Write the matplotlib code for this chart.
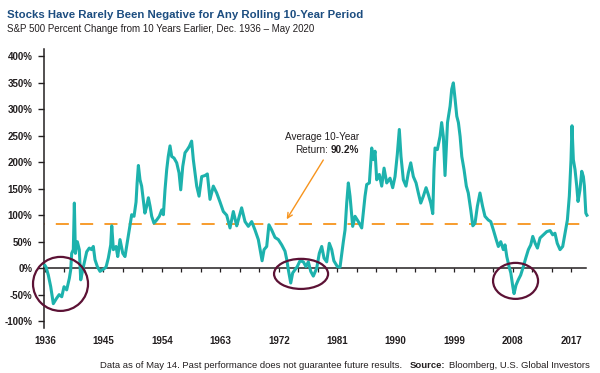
import matplotlib
matplotlib.use('Agg')
import matplotlib.pyplot as plt
import matplotlib.transforms as mtransforms
from matplotlib.patches import Ellipse

plt.rcParams['font.family'] = ['Liberation Sans', 'DejaVu Sans']
plt.rcParams['lines.scale_dashes'] = False

# ---------------- data ----------------
years = [1936.92, 1937.08, 1937.43, 1937.8, 1938.2, 1938.7, 1939.1, 1939.5, 1939.85, 1940.26,
         1940.67, 1940.88, 1941.03, 1941.28, 1941.44, 1941.6, 1941.9, 1942.2, 1942.42, 1942.73,
         1943.08, 1943.34, 1943.74, 1944.1, 1944.36, 1944.62, 1944.98, 1945.39, 1945.9, 1946.32,
         1946.67, 1947.04, 1947.2, 1947.45, 1947.86, 1948.12, 1948.47, 1948.9, 1949.24, 1949.6,
         1950.01, 1950.27, 1950.63, 1950.94, 1951.1, 1951.3, 1951.55, 1951.8, 1952.06, 1952.3,
         1952.58, 1952.84, 1953.1, 1953.35, 1953.7, 1954.12, 1954.53, 1954.9, 1955.15, 1955.4,
         1955.66, 1955.9, 1956.17, 1956.43, 1956.79, 1957.2, 1957.56, 1957.82, 1958.13, 1958.48,
         1958.84, 1959.15, 1959.5, 1959.76, 1960.02, 1960.28, 1960.64, 1961.05, 1961.56, 1961.92,
         1962.33, 1962.84, 1963.36, 1963.87, 1964.38, 1964.9, 1965.41, 1965.92, 1966.44, 1967.2,
         1967.72, 1968.23, 1968.75, 1969.26, 1969.77, 1970.35, 1970.65, 1971.06, 1971.4, 1971.83,
         1972.34, 1972.85, 1973.37, 1973.88, 1974.15, 1974.39, 1974.76, 1975.06, 1975.42, 1975.77,
         1976.19, 1976.7, 1977.1, 1977.47, 1977.84, 1978.24, 1978.76, 1979.16, 1979.53, 1979.89,
         1980.3, 1980.7, 1981.07, 1981.4, 1981.94, 1982.35, 1982.86, 1983.12, 1983.38, 1983.63,
         1983.89, 1984.3, 1984.66, 1985.17, 1985.69, 1986.2, 1986.46, 1986.87, 1987.23, 1987.48,
         1987.74, 1988.0, 1988.4, 1988.77, 1989.13, 1989.54, 1990.05, 1990.46, 1990.82, 1991.17,
         1991.48, 1991.74, 1992.1, 1992.51, 1992.87, 1993.24, 1993.64, 1994.06, 1994.41, 1994.78,
         1995.18, 1995.6, 1995.95, 1996.32, 1996.63, 1996.82, 1996.98, 1997.34, 1997.75, 1998.0,
         1998.26, 1998.52, 1998.9, 1999.3, 1999.55, 1999.8, 2000.07, 2000.33, 2000.58, 2000.84,
         2001.1, 2001.45, 2001.8, 2002.1, 2002.48, 2002.8, 2003.14, 2003.5, 2003.9, 2004.3,
         2004.67, 2005.18, 2005.56, 2005.97, 2006.4, 2006.73, 2007.1, 2007.5, 2007.76, 2008.03,
         2008.38, 2008.65, 2008.96, 2009.15, 2009.45, 2009.8, 2010.17, 2010.58, 2010.95, 2011.35,
         2011.72, 2012.03, 2012.4, 2012.75, 2013.15, 2013.67, 2014.18, 2014.7, 2015.1, 2015.45,
         2015.8, 2016.23, 2016.64, 2017.0, 2017.36, 2017.66, 2017.92, 2018.07, 2018.28, 2018.54,
         2018.8, 2019.0, 2019.3, 2019.57, 2019.82, 2019.98, 2020.2, 2020.37]
pct_change = [5, 2, -13, -35, -67, -57, -50, -54, -35, -41,
              -19, -3, 28, 35, 123, 28, 50, 35, -22, -3,
              16, 31, 38, 35, 41, 16, 3, -6, -2, 2,
              19, 44, 80, 35, 41, 22, 54, 28, 22, 50,
              82, 101, 98, 125, 160, 194, 167, 155, 129, 104,
              117, 133, 117, 98, 85, 91, 98, 110, 101, 148,
              186, 211, 231, 211, 208, 199, 180, 148, 192, 218,
              224, 230, 240, 205, 180, 155, 136, 173, 175, 178,
              130, 155, 142, 125, 107, 100, 76, 107, 80, 114,
              88, 79, 88, 72, 54, 14, 35, 41, 82, 72,
              58, 54, 44, 32, 16, -3, -28, -9, -3, 3,
              14, 12, 3, 12, -6, -15, 0, 28, 41, 19,
              12, 47, 35, 14, 3, 2, 50, 72, 123, 161,
              136, 79, 98, 88, 76, 136, 158, 161, 227, 205,
              221, 167, 177, 155, 189, 161, 170, 152, 173, 215,
              262, 211, 167, 155, 180, 199, 173, 161, 142, 123,
              136, 152, 139, 123, 103, 186, 227, 224, 249, 275,
              249, 175, 275, 306, 338, 350, 319, 287, 275, 249,
              211, 186, 155, 142, 110, 80, 85, 117, 142, 117,
              98, 91, 88, 72, 54, 41, 50, 35, 44, 22,
              3, -9, -35, -48, -32, -22, -13, 3, 19, 35,
              44, 60, 47, 38, 57, 63, 69, 71, 63, 66,
              47, 35, 41, 66, 91, 136, 205, 269, 205, 186,
              155, 126, 148, 183, 173, 155, 104, 100]

label_years = [1936, 1945, 1954, 1963, 1972, 1981, 1990, 1999, 2008, 2017]
first_tick = 1936.92          # ticks fall on December of each labelled year
tick_step = 3
y_ticks = [-100, -50, 0, 50, 100, 150, 200, 250, 300, 350, 400]
avg_line_value = 83
avg_text_1 = "Average 10-Year"
avg_text_2 = "Return:"
avg_value_text = "90.2%"
# (centre year, centre %, width in years, height in %)
highlight_ellipses = [(1939.31, -29.7, 8.47, 102.0),
                      (1976.35, -10.8, 8.32, 56.8),
                      (2009.38, -24.0, 6.93, 68.0)]

title = "Stocks Have Rarely Been Negative for Any Rolling 10-Year Period"
subtitle = "S&P 500 Percent Change from 10 Years Earlier, Dec. 1936 \u2013 May 2020"
footer_runs = [("Data as of May 14. Past performance does not guarantee future results.", 'normal', 8),
               ("Source:", 'bold', 3),
               ("Bloomberg, U.S. Global Investors", 'normal', 0)]

# ---------------- styling ----------------
W, H = 600, 373
TEAL = '#1db2ad'
ORANGE = '#f7941d'
MAROON = '#5c1235'
DARK = '#231f20'
TITLE_BLUE = '#1c4d80'

fig = plt.figure(figsize=(W / 100, H / 100), dpi=100)
fig.patch.set_facecolor('white')

ax_left, ax_right, ax_top, ax_bottom = 44, 589, 49, 328
ax = fig.add_axes([ax_left / W, 1 - ax_bottom / H, (ax_right - ax_left) / W, (ax_bottom - ax_top) / H])
px_per_year = 6.494
x0 = first_tick - 1.0 / px_per_year
ax.set_xlim(x0, x0 + (ax_right - ax_left) / px_per_year)
ax.set_ylim(-113, 414)
ax.set_facecolor('white')

# spines
for s in ['top', 'right']:
    ax.spines[s].set_visible(False)
ax.spines['left'].set_color(DARK)
ax.spines['left'].set_linewidth(1.1)
ax.spines['bottom'].set_position(('data', 0))
ax.spines['bottom'].set_color(DARK)
ax.spines['bottom'].set_linewidth(1.1)
ax.spines['bottom'].set_bounds(x0, 2020.3)

# ticks
ax.set_yticks(y_ticks)
ax.set_yticklabels([f"{v}%" for v in y_ticks])
ax.tick_params(axis='y', direction='out', length=4.3, width=1.0, color=DARK, pad=4.0,
               labelsize=7, labelcolor=DARK)
for lab in ax.get_yticklabels():
    lab.set_fontweight('bold')
xt = [first_tick + tick_step * k for k in range(int((2018 - first_tick) // tick_step) + 1)]
ax.set_xticks(xt)
ax.tick_params(axis='x', direction='out', length=2.6, width=0.9, color=DARK, labelbottom=False)

# year labels below the plot
trans = mtransforms.blended_transform_factory(ax.transData, fig.transFigure)
for yr in label_years:
    ax.text(first_tick + (yr - 1936), 1 - 340.5 / H, str(yr), transform=trans, ha='center',
            va='center', fontsize=7, fontweight='bold', color=DARK, clip_on=False)

# average line
ax.plot([x0, 2020.5], [avg_line_value, avg_line_value], color=ORANGE, lw=1.3,
        linestyle=(9.0, (9.4, 8.1)), zorder=2, clip_on=False)

# main series
ax.plot(years, pct_change, color=TEAL, lw=2.2, solid_joinstyle='round', zorder=3, clip_on=False)

# highlight ellipses
for cx, cy, w, h in highlight_ellipses:
    ax.add_patch(Ellipse((cx, cy), w, h, fill=False, edgecolor=MAROON, lw=1.6, zorder=4,
                         clip_on=False))

# arrow
def px2data(px, py):
    return ax.transData.inverted().transform((px, H - py))

ax.annotate('', xy=px2data(286.7, 219.3), xytext=px2data(323.3, 160),
            arrowprops=dict(arrowstyle='->', color=ORANGE, lw=1.0, mutation_scale=9,
                            shrinkA=0, shrinkB=0), zorder=5)

# ---------------- texts ----------------
fig.canvas.draw()
renderer = fig.canvas.get_renderer()

def fit_width(t, target):
    w = t.get_window_extent(renderer).width
    t.set_fontsize(t.get_fontsize() * target / w)

t_title = fig.text(7 / W, 1 - 18.3 / H, title, fontsize=10, fontweight='bold', color=TITLE_BLUE,
                   ha='left', va='baseline', family=['Liberation Sans Narrow', 'Liberation Sans'])
fit_width(t_title, 355)
t_sub = fig.text(7 / W, 1 - 32.3 / H, subtitle, fontsize=7.5, color=DARK, ha='left', va='baseline')
fit_width(t_sub, 308)

def layout_runs(runs, x_start, y_base, size, color=DARK):
    texts = []
    x = x_start
    for s, wt, gap in runs:
        t = fig.text(x / W, 1 - y_base / H, s, fontsize=size, fontweight=wt, color=color,
                     ha='left', va='baseline')
        w = t.get_window_extent(renderer).width
        texts.append(t)
        x += w + gap
    return texts, x - x_start

# footer: fit total width 100 -> 588
ftexts, tot = layout_runs(footer_runs, 100, 367.5, 6.5)
gaps = sum(g for _, _, g in footer_runs)
scale = (488 - gaps) / (tot - gaps)
for t in ftexts:
    t.remove()
ftexts, tot = layout_runs(footer_runs, 100, 367.5, 6.5 * scale)

# annotation text, right aligned at x=359
t_a1 = fig.text(359 / W, 1 - 140 / H, avg_text_1, fontsize=7, color=DARK, ha='right', va='baseline')
fit_width(t_a1, 74)
asz = t_a1.get_fontsize()
runs2 = [(avg_text_2, 'normal', 3), (avg_value_text, 'bold', 0)]
t2, w2 = layout_runs(runs2, 0, 153.3, asz)
for t in t2:
    t.remove()
layout_runs(runs2, 359 - w2, 153.3, asz)

fig.savefig('out.png', dpi=100, facecolor='white')
